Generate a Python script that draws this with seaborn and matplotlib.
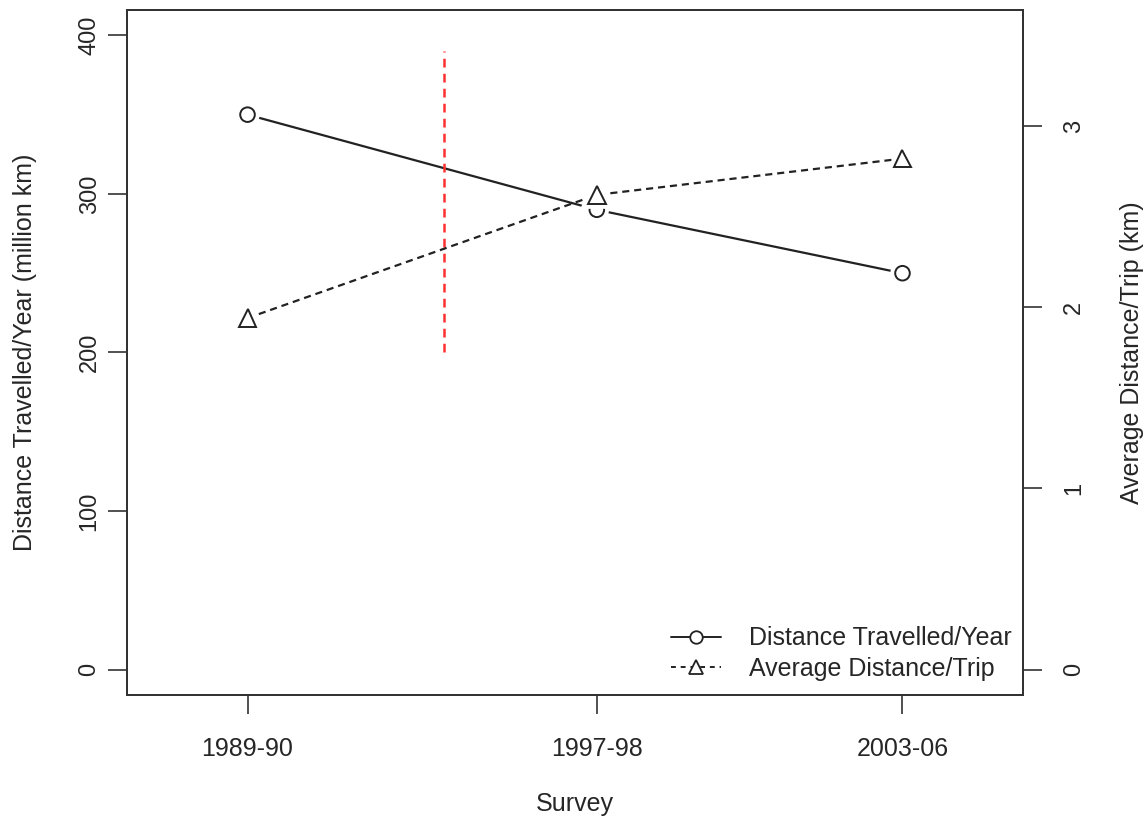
import numpy as np
import pandas as pd
import matplotlib
matplotlib.use("Agg")
import matplotlib.pyplot as plt
import matplotlib.patheffects as pe
from matplotlib.lines import Line2D
import seaborn as sns

# ---- data ----
survey_labels = ["1989-90", "1997-98", "2003-06"]
survey_mid = [1989.5, 1997.5, 2004.5]
distance_per_year = [350, 290, 250]          # million km (left axis)
avg_distance_trip = [1.94, 2.62, 2.82]       # km (right axis)
ref_line_x = 1994
ref_line_y = [200, 390]
left_ticks = [0, 100, 200, 300, 400]
right_ticks = [0, 1, 2, 3]

sns.set_style("white")
plt.rcParams["font.family"] = ["Liberation Sans", "DejaVu Sans"]

FS = 18
FS_Y = 17
fig = plt.figure(figsize=(11.48, 8.19), dpi=100)
ax = fig.add_axes([127/1148, 1-695/819, (1023-127)/1148, (695-10)/819])
ax2 = ax.twinx()

df1 = pd.DataFrame({"x": survey_mid, "y": distance_per_year})
df2 = pd.DataFrame({"x": survey_mid, "y": avg_distance_trip})

halo = [pe.Stroke(linewidth=7, foreground="white"), pe.Normal()]

# lines
sns.lineplot(data=df1, x="x", y="y", ax=ax, color="#222222", lw=1.6, zorder=2)
sns.lineplot(data=df2, x="x", y="y", ax=ax2, color="#222222", lw=1.6,
             linestyle=(0, (3.2, 2.2)), zorder=2)
# markers with white halo (R type="b" gaps)
ax.plot(survey_mid, distance_per_year, ls="none", marker="o", ms=10.5,
        mfc="white", mec="#222222", mew=1.4, zorder=3, path_effects=halo)
ax2.plot(survey_mid, avg_distance_trip, ls="none", marker="^", ms=12.5,
         mfc="white", mec="#222222", mew=1.4, zorder=3, path_effects=halo)

# red reference line
ax.vlines(ref_line_x, ref_line_y[0], ref_line_y[1], colors="#ff3030",
          linestyles=(0, (3.5, 2.5)), lw=1.8, zorder=4)

# limits (R-style 4% expansion)
def rlim(lo, hi):
    d = (hi - lo) * 0.04
    return lo - d, hi + d

ax.set_xlim(*rlim(1987.5, 2006.5))
ax.set_ylim(*rlim(0, 400))
ax2.set_ylim(*rlim(0, 3.5))

ax.set_xticks(survey_mid)
ax.set_xticklabels(survey_labels)
ax.set_yticks(left_ticks)
ax.set_yticklabels([str(t) for t in left_ticks], rotation=90, va="center")
ax2.set_yticks(right_ticks)
ax2.set_yticklabels([str(t) for t in right_ticks], rotation=90, va="center")

for a in (ax, ax2):
    for s in a.spines.values():
        s.set_color("#333333")
        s.set_linewidth(1.4)
ax.tick_params(axis="x", direction="out", length=14, width=1.2, color="#333333",
               labelsize=FS, pad=16, bottom=True)
ax.tick_params(axis="y", direction="out", length=14, width=1.2, color="#333333",
               labelsize=FS_Y, pad=5, left=True)
ax2.tick_params(axis="y", direction="out", length=14, width=1.2, color="#333333",
                labelsize=FS_Y, pad=15, right=True)

ax.set_xlabel("Survey", fontsize=FS)
ax.set_ylabel("Distance Travelled/Year (million km)", fontsize=FS)
ax2.set_ylabel("Average Distance/Trip (km)", fontsize=FS, rotation=90)
ax.xaxis.set_label_coords(0.5, -0.142)
ax.yaxis.set_label_coords(-0.101, 0.5)
ax2.yaxis.set_label_coords(1.108, 0.5)
ax2.yaxis.label.set_va("top")

handles = [
    Line2D([0], [0], color="#222222", lw=1.4, marker="o", ms=9, mfc="white",
           mec="#222222", mew=1.3),
    Line2D([0], [0], color="#222222", lw=1.4, ls=(0, (2.5, 2.5)), marker="^",
           ms=10, mfc="white", mec="#222222", mew=1.3),
]
ax.legend(handles, ["Distance Travelled/Year", "Average Distance/Trip"],
          loc="lower right", bbox_to_anchor=(1.012, -0.012), frameon=False,
          fontsize=FS, handlelength=2.0, handletextpad=1.1, labelspacing=0.25,
          borderaxespad=0.5)

fig.savefig("out.png", dpi=100)
